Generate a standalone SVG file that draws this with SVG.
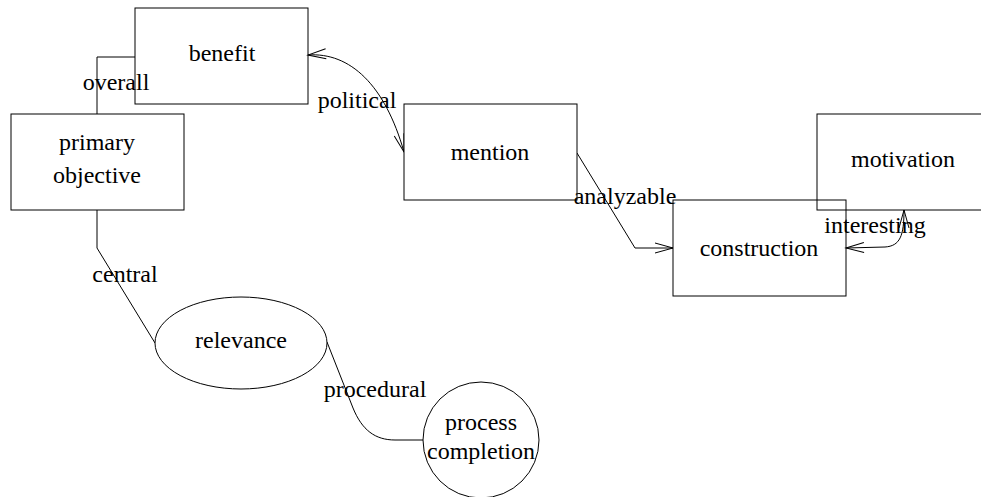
<svg xmlns="http://www.w3.org/2000/svg" width="981" height="497" viewBox="0 0 981 497">
<style>
.n{fill:#fff;stroke:#000;stroke-width:1}
.t{font-size:24px;fill:#000;text-anchor:middle}
.c{fill:none;stroke:#000;stroke-width:1}
</style>
<defs>
<marker id="a" markerUnits="userSpaceOnUse" markerWidth="20" markerHeight="12" refX="18" refY="5" orient="auto-start-reverse" overflow="visible">
<path d="M0,0 L18,5 L0,10" fill="none" stroke="#000" stroke-width="1"/>
</marker>
</defs>
<rect width="981" height="497" fill="#fff"/>
<g id="connectors">
<path class="c" d="M135,57 H97 V114"/>
<path class="c" d="M97,210 V248 L155,343"/>
<path class="c" d="M327,342 L353,408 C362,430 375,440 395,440 H424"/>
<path class="c" d="M308,55 C350,52 385,85 404,152" marker-start="url(#a)" marker-end="url(#a)"/>
<path class="c" d="M577,153 L635,248 H673" marker-end="url(#a)"/>
<path class="c" d="M846,248 L885,247 C900,246 904,236 904,210" marker-start="url(#a)" marker-end="url(#a)"/>
</g>
<g font-family="Liberation Serif, Times New Roman, DejaVu Serif, serif">
<g id="benefit">
<rect class="n" x="135" y="8" width="173" height="96" fill-opacity="0"/>
<text class="t" x="222" y="61">benefit</text>
</g>
<g id="primary-objective">
<rect class="n" x="11" y="114" width="173" height="96"/>
<text class="t" x="97" y="150">primary</text>
<text class="t" x="97" y="183">objective</text>
</g>
<g id="relevance">
<ellipse class="n" cx="241" cy="343" rx="86" ry="46"/>
<text class="t" x="241" y="348">relevance</text>
</g>
<g id="process-completion">
<circle class="n" cx="481" cy="440" r="58"/>
<text class="t" x="481" y="430">process</text>
<text class="t" x="481" y="459">completion</text>
</g>
<g id="mention">
<rect class="n" x="404" y="104" width="173" height="96"/>
<text class="t" x="490" y="160">mention</text>
</g>
<g id="construction">
<rect class="n" x="673" y="200" width="173" height="96" fill-opacity="0"/>
<text class="t" x="759" y="256">construction</text>
</g>
<g id="motivation">
<rect class="n" x="817" y="114" width="173" height="96" fill-opacity="0"/>
<text class="t" x="903" y="167">motivation</text>
</g>
<g id="labels">
<text class="t" x="116" y="90">overall</text>
<text class="t" x="125" y="282">central</text>
<text class="t" x="375" y="397">procedural</text>
<text class="t" x="357" y="108">political</text>
<text class="t" x="625" y="204">analyzable</text>
<text class="t" x="875" y="233">interesting</text>
</g>
</g>
</svg>
